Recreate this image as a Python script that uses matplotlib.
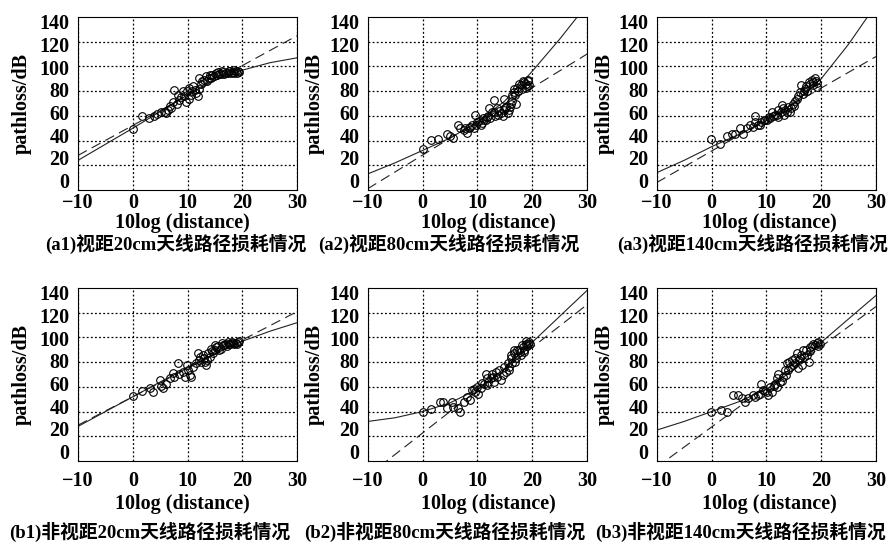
import matplotlib
matplotlib.use("Agg")
import matplotlib.pyplot as plt

plt.rcParams["axes.unicode_minus"] = True

a1_x = [0, 1.7, 3.0, 3.9, 4.5, 5.2, 5.8, 6.4, 6.7, 7.3, 7.6, 8.2, 8.5, 9.1, 9.4, 9.7, 10.3, 10.6, 11.0,
        11.5, 11.8, 12.1, 12.4, 13.0, 13.3, 13.9, 14.5, 15.1, 15.8, 16.4, 17.0, 17.6, 18.2, 18.8, 19.1,
        6.0, 7.0, 8.0, 8.8, 9.8, 10.2, 10.8, 11.3, 12.0, 12.7, 13.6, 14.2, 14.8, 15.4, 16.0, 16.7, 17.3,
        17.9, 18.5, 19.0, 19.4, 14.0, 15.5, 16.2, 17.5, 18.4]
a1_y = [49.5, 59.5, 58, 60, 61.4, 63, 63.5, 65, 67.6, 71.6, 81, 77, 73, 79.8, 75.7, 71.6, 82.5, 77, 83.8,
        78.4, 75.7, 90.5, 85.7, 89, 92, 90.5, 93, 94.6, 94, 95.4, 94.6, 96, 95.4, 96, 96.5,
        62, 66, 70, 75, 80, 74, 80, 81, 82, 88, 88, 91, 92, 93, 93.5, 94, 95,
        94.5, 95, 95, 95.5, 93, 95.5, 96, 96.5, 97]

a2_x = [0, 1.6, 2.8, 4.4, 5.0, 5.6, 6.5, 6.8, 7.5, 8.1, 8.4, 9.0, 9.6, 9.9, 10.6, 11.2, 11.8, 12.1, 12.7,
        13.0, 13.6, 14.3, 14.8, 15.2, 15.8, 16.1, 16.4, 16.7, 17.3, 17.9, 18.6, 19.2, 18.9, 19.5,
        9.3, 10.3, 10.9, 11.5, 12.3, 13.3, 14.0, 14.6, 15.0, 15.5, 16.0, 16.3, 16.9, 17.0, 17.5, 17.6,
        18.2, 18.4, 18.8, 19.0, 19.3, 7.8, 8.6, 9.8, 11.0, 12.0, 13.0, 13.8, 14.8, 16.6]
a2_y = [33, 40.3, 41.6, 45.7, 43.8, 41.7, 52.5, 49.8, 48.4, 46.5, 49.8, 52.5, 60.6, 55.2, 52.5, 56.5, 59.2,
        66, 63.3, 72.7, 66, 62, 74, 67.3, 64.6, 70, 76.8, 79.5, 82.2, 84.9, 87.6, 89, 82.2, 85,
        50, 56, 54, 57, 58, 60, 64, 60, 66, 62, 67, 72, 77, 70, 80, 86,
        82, 88, 86, 84, 88, 50, 51, 53, 58.5, 60, 63, 61, 65, 82]

a3_x = [-0.15, 1.5, 2.8, 3.7, 4.3, 5.8, 5.2, 7.0, 7.9, 8.5, 9.1, 9.8, 10.4, 11.0, 11.6, 12.2, 12.8, 13.4,
        14.0, 14.3, 14.9, 15.5, 16.1, 16.4, 17.0, 17.7, 18.3, 18.9, 18.6, 19.2, 12.2, 10.1,
        6.5, 7.5, 8.0, 8.8, 9.5, 10.7, 11.3, 12.0, 12.6, 13.0, 13.7, 14.5, 15.0, 15.3, 15.8, 16.6,
        16.8, 17.3, 17.5, 18.0, 18.5, 19.0, 19.3, 13.2]
a3_y = [41, 37.6, 43.8, 45, 45.7, 45.7, 49.8, 52.5, 60, 52.5, 55.2, 56.5, 59.2, 63.3, 60.6, 59.2, 68.7,
        64.6, 67.3, 63.3, 70, 74, 79.5, 84.9, 82, 87.6, 89, 90.3, 84.9, 86.2, 64.6, 56.5,
        50, 51, 55, 53, 57, 58, 60, 61, 63, 66, 63, 66, 68, 72, 76, 78,
        80, 84, 80, 86, 87, 88, 83, 61]

b1_x = [0, 1.6, 3.1, 3.7, 5.2, 5.5, 4.9, 6.1, 6.7, 7.3, 7.6, 8.2, 8.5, 9.2, 9.5, 9.8, 10.1, 10.4, 10.7,
        11.0, 11.6, 11.9, 12.2, 12.5, 12.8, 13.1, 13.4, 13.7, 14.3, 14.6, 15.2, 15.8, 16.4, 17.0, 17.6,
        18.2, 18.8, 19.2, 12.0, 13.0, 13.5, 14.0, 14.5, 15.0, 15.5, 16.0, 16.6, 17.2, 17.8, 18.4, 19.0,
        19.4, 15.0, 16.2, 17.4, 18.0]
b1_y = [53, 56.8, 58.7, 56, 60.6, 58.7, 65.4, 62.7, 66.8, 71.4, 68, 79, 70.8, 72, 68, 77.6, 73.5, 69.5,
        68.1, 76.2, 79, 87.6, 84.3, 80.3, 85.7, 80.3, 77.6, 87, 91, 87, 92.4, 89.7, 93.8, 95, 94.6,
        95.7, 95.7, 96.5, 82, 83, 82, 84, 89, 90, 93, 91, 94, 93, 95, 94.5, 95,
        97, 94, 95.5, 96, 96.5]

b2_x = [0, 1.6, 3.1, 3.8, 4.4, 5.3, 5.6, 6.5, 6.8, 7.5, 8.1, 8.7, 9.0, 9.6, 9.9, 10.2, 10.6, 11.2, 11.5,
        11.8, 12.4, 12.7, 13.0, 13.6, 14.0, 14.3, 14.9, 15.2, 15.5, 16.1, 16.4, 16.7, 17.0, 17.3, 18.0,
        18.3, 18.6, 18.9, 19.5, 15.8, 16.2, 16.9, 17.6, 17.8, 18.1, 18.5, 19.0, 19.3, 19.6, 18.8,
        12.0, 12.9, 13.4, 14.6, 15.7, 11.7, 10.8, 9.4, 16.6]
b2_y = [39.8, 41.7, 47.9, 47.9, 42.5, 47.9, 43.8, 42.5, 39.8, 47.9, 52, 49.2, 57.3, 56, 60, 54.6, 58.7,
        62.7, 70.8, 61.4, 66.8, 70.8, 64, 68, 73.5, 65.4, 76.2, 72, 79, 83, 79, 87, 83, 89.7, 85.7,
        92.4, 88.4, 95, 96.5, 76, 86, 80, 90, 88, 94, 90, 93, 95, 95, 97,
        64, 68, 72, 70, 74, 67, 63, 58, 90]

b3_x = [-0.15, 1.7, 2.9, 4.0, 4.9, 5.5, 6.1, 6.7, 7.6, 8.4, 9.1, 9.4, 10.1, 10.3, 10.7, 11.6, 11.9, 12.2,
        12.5, 13.1, 13.4, 13.7, 14.3, 14.6, 15.2, 15.5, 15.8, 16.1, 16.7, 17.4, 17.7, 18.0, 18.6, 19.2,
        19.5, 8.0, 8.8, 9.7, 11.0, 11.4, 12.8, 13.5, 14.0, 14.9, 15.3, 15.9, 16.4, 16.9, 17.2, 17.9,
        18.3, 18.9, 19.4, 19.7, 12.0, 14.1, 16.5]
b3_y = [39.8, 41.1, 39.8, 53.3, 53.3, 50.6, 47.9, 50.6, 53.3, 53.3, 62.7, 57.3, 56, 53.3, 60, 62.7, 66.8,
        70.8, 64, 68, 73.5, 79, 76.2, 81.6, 79, 87, 74.9, 83, 89.7, 85.7, 80.3, 92.4, 95, 95.7,
        96.5, 52, 54, 57, 56, 61, 65, 70, 74, 78, 83, 82, 86, 84, 90, 89,
        93, 94, 93, 95, 60, 80, 78]

# fitted curves (solid) sampled at fit_x, and straight fits (dashed) at the x-axis ends
fit_x = [-10, -5, 0, 5, 10, 15, 20, 25, 30]
a1_solid = [24, 37, 50, 63.5, 77, 89, 97, 103, 107]
a2_solid = [13, 22, 32, 42, 55, 72, 96, 122, 150]
a3_solid = [14, 24, 35, 45, 56, 70, 90, 118, 150]
b1_solid = [28, 40, 52, 64, 75.5, 87, 97, 105, 112]
b2_solid = [32, 35, 40, 47, 58, 75, 96, 117, 138]
b3_solid = [25, 32, 40, 48, 58, 74, 96, 115, 134]

line_x = [-10, 30]
a1_dashed = [28, 125]
a2_dashed = [1, 110]
a3_dashed = [6, 108]
b1_dashed = [29, 121]
b2_dashed = [-12, 126.5]
b3_dashed = [-5, 125]

x_ticks = [-10, 0, 10, 20, 30]
y_ticks = [0, 20, 40, 60, 80, 100, 120, 140]

captions = ["(a1)视距20cm天线路径损耗情况", "(a2)视距80cm天线路径损耗情况", "(a3)视距140cm天线路径损耗情况",
            "(b1)非视距20cm天线路径损耗情况", "(b2)非视距80cm天线路径损耗情况", "(b3)非视距140cm天线路径损耗情况"]

panels = [
    (a1_x, a1_y, a1_solid, a1_dashed),
    (a2_x, a2_y, a2_solid, a2_dashed),
    (a3_x, a3_y, a3_solid, a3_dashed),
    (b1_x, b1_y, b1_solid, b1_dashed),
    (b2_x, b2_y, b2_solid, b2_dashed),
    (b3_x, b3_y, b3_solid, b3_dashed),
]

W, H = 892, 548
fig = plt.figure(figsize=(W / 100, H / 100), dpi=100)

col_left = [78, 367.7, 656.7]
ax_w = 219.3
row_top = [17, 288]
ax_h = 173
ylab_x = [-0.256, -0.24, -0.236]
xlab_x = [0.475, 0.548, 0.512]
xlab_y = [-0.19, -0.248]
tick_pad = [2, 7]
cap_x = [[176, 449, 753], [150, 445, 740]]
cap_y = [244, 532]

serif = ["Liberation Serif", "Noto Sans CJK SC"]

for i, (px, py, solid, dashed) in enumerate(panels):
    r, c = divmod(i, 3)
    ax = fig.add_axes([col_left[c] / W, 1 - (row_top[r] + ax_h) / H, ax_w / W, ax_h / H])
    for v in y_ticks[1:-1]:
        ax.axhline(v, color="black", lw=0.9, linestyle=(0, (1.5, 1.8)), zorder=0.5)
    ax.plot(fit_x, solid, color="#222222", lw=0.8)
    ax.plot(line_x, dashed, color="#222222", lw=0.8, dashes=(9, 5))
    ax.plot(px, py, "o", mfc="none", mec="black", ms=5.5, mew=0.8)
    ax.set_xlim(-10, 30)
    ax.set_ylim(0, 140)
    ax.set_xticks(x_ticks)
    # in the scanned figure the y labels sit a little closer together than the grid
    ax.set_yticks([7.5 + v * 0.92 for v in y_ticks], [str(v) for v in y_ticks])
    ax.grid(True, axis="x", color="black", lw=0.9, linestyle=(0, (1.5, 1.8)))
    ax.tick_params(length=0, labelsize=14.5)
    ax.tick_params(axis="x", pad=tick_pad[r])
    ax.tick_params(axis="y", pad=6)
    for lab in ax.get_xticklabels() + ax.get_yticklabels():
        lab.set_fontfamily("Liberation Serif")
        lab.set_fontweight("bold")
    for s in ax.spines.values():
        s.set_linewidth(0.8)
    ax.set_xlabel("10log (distance)", family=serif, fontweight="bold", fontsize=14.5)
    ax.set_ylabel("pathloss/dB", family=serif, fontweight="bold", fontsize=14.5)
    ax.xaxis.set_label_coords(xlab_x[c], xlab_y[r])
    ax.xaxis.label.set_va("center")
    ax.yaxis.set_label_coords(ylab_x[c], 0.5)
    ax.yaxis.label.set_va("center")
    ax.yaxis.label.set_ha("center")
    fig.text(cap_x[r][c] / W, 1 - cap_y[r] / H, captions[i], family=serif, fontweight="bold",
             fontsize=13.5, ha="center", va="center")

fig.savefig("out.png", dpi=100)
